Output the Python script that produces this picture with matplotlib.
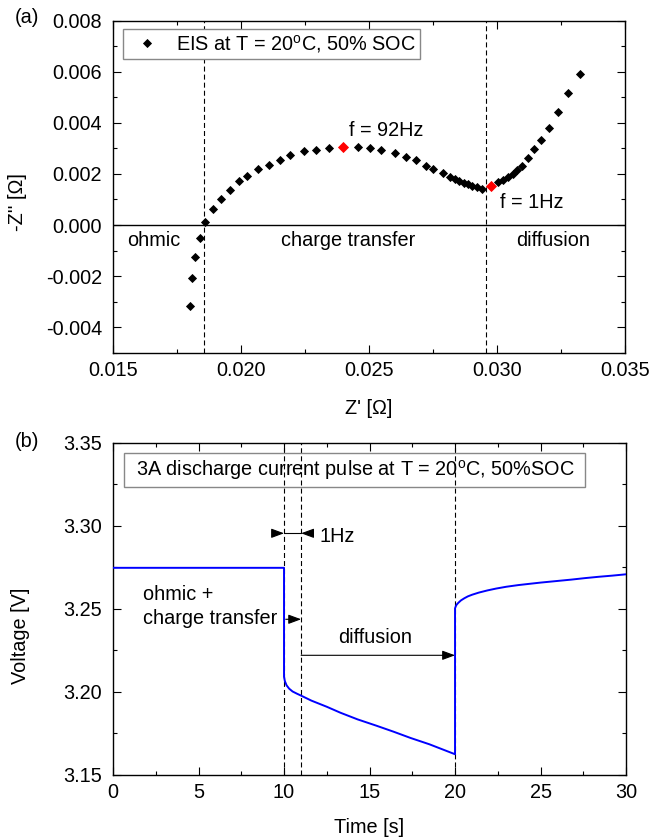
import numpy as np
import matplotlib
matplotlib.use('Agg')
import matplotlib.pyplot as plt
from matplotlib.ticker import MultipleLocator, FormatStrFormatter
from matplotlib.patches import Rectangle

plt.rcParams['font.family'] = ['Liberation Sans', 'DejaVu Sans']
plt.rcParams['mathtext.fontset'] = 'custom'
plt.rcParams['mathtext.rm'] = 'Liberation Sans'
plt.rcParams['axes.unicode_minus'] = False
plt.rcParams['font.size'] = 14.3

# EIS spectrum (Nyquist plot), T = 20 degC, 50 % SOC
z_re = [0.01800, 0.01809, 0.01819, 0.01839, 0.01858, 0.01891, 0.01923, 0.01956,
        0.01991, 0.02025, 0.02066, 0.02108, 0.02151, 0.02190, 0.02245, 0.02294,
        0.02344, 0.02457, 0.02505, 0.02548, 0.02600, 0.02646, 0.02685, 0.02724,
        0.02750, 0.02789, 0.02818, 0.02835, 0.02852, 0.02870, 0.02887, 0.02904,
        0.02922, 0.02940, 0.03004, 0.03024, 0.03043, 0.03063, 0.03078, 0.03099,
        0.03121, 0.03143, 0.03170, 0.03203, 0.03238, 0.03277, 0.03326]
z_im = [-0.00316, -0.00208, -0.00127, -0.00052, 0.00012, 0.00064, 0.00103, 0.00138,
        0.00171, 0.00193, 0.00219, 0.00236, 0.00256, 0.00273, 0.00288, 0.00292,
        0.00301, 0.00304, 0.00301, 0.00295, 0.00282, 0.00266, 0.00253, 0.00232,
        0.00220, 0.00204, 0.00190, 0.00180, 0.00172, 0.00164, 0.00159, 0.00154,
        0.00149, 0.00143, 0.00167, 0.00177, 0.00188, 0.00201, 0.00214, 0.00232,
        0.00262, 0.00298, 0.00334, 0.00380, 0.00442, 0.00517, 0.00592]

# highlighted frequencies
mark_re = [0.02398, 0.02978]
mark_im = [0.00305, 0.00151]
mark_txt = ['f = 92Hz', 'f = 1Hz']

# region borders in the spectrum
z_ohmic = 0.01855
z_1hz = 0.02956

# voltage response to a 3 A discharge pulse
t = [0.0, 10.0, 10.0, 10.05, 10.15, 10.3, 10.5, 10.75, 11.0, 11.6, 12.5, 13.3,
     14.3, 15.4, 16.4, 17.4, 18.5, 19.5, 20.0, 20.0, 20.05, 20.1, 20.2, 20.35,
     20.55, 20.75, 21.0, 21.4, 21.9, 22.4, 23.0, 23.7, 24.3, 25.0, 26.0, 26.8,
     27.6, 28.4, 29.2, 30.0]
v = [3.2748, 3.2748, 3.2092, 3.2065, 3.2040, 3.2020, 3.2003, 3.1990, 3.1978,
     3.1948, 3.1911, 3.1875, 3.1835, 3.1797, 3.1761, 3.1723, 3.1685, 3.1645,
     3.1625, 3.2504, 3.2518, 3.2527, 3.2538, 3.2552, 3.2565, 3.2576, 3.2586,
     3.2599, 3.2612, 3.2623, 3.2634, 3.2644, 3.2651, 3.2659, 3.2669, 3.2677,
     3.2686, 3.2694, 3.2701, 3.2709]

t_on = 10.0
t_1hz = 11.0
t_off = 20.0

fig = plt.figure(figsize=(6.66, 8.39), dpi=100)
ax1 = fig.add_axes([0.1697, 0.5796, 0.7688, 0.3957])
ax2 = fig.add_axes([0.1697, 0.0763, 0.7703, 0.3957])


def style_axes(ax):
    ax.tick_params(which='both', direction='in', top=True, right=True, width=0.8)
    ax.tick_params(which='major', length=5.5, pad=6)
    ax.tick_params(which='minor', length=3)
    ax.tick_params(axis='y', which='major', pad=8)
    for s in ax.spines.values():
        s.set_linewidth(1.0)


dash = (0, (4.5, 2.75))

# ---- (a) EIS ----
ax1.axhline(0, color='k', lw=1.0, zorder=1)
ax1.axvline(z_ohmic, color='k', lw=0.8, ls=dash, zorder=1)
ax1.axvline(z_1hz, color='k', lw=0.8, ls=dash, zorder=1)
ax1.plot(z_re, z_im, 'D', color='k', ms=4.0, mew=0.6, zorder=3,
         label='EIS at T = 20$^\\mathrm{o}$C, 50% SOC')
ax1.plot(mark_re, mark_im, 'D', color='red', mec='red', ms=5.6, mew=0.6, zorder=4)
ax1.text(0.02420, 0.00347, mark_txt[0], ha='left', va='baseline')
ax1.text(0.03010, 0.00068, mark_txt[1], ha='left', va='baseline')
ax1.text(0.01555, -0.00082, 'ohmic', ha='left', va='baseline')
ax1.text(0.02157, -0.00082, 'charge transfer', ha='left', va='baseline')
ax1.text(0.03075, -0.00082, 'diffusion', ha='left', va='baseline')

ax1.set_xlim(0.015, 0.035)
ax1.set_ylim(-0.005, 0.008)
ax1.xaxis.set_major_locator(MultipleLocator(0.005))
ax1.xaxis.set_minor_locator(MultipleLocator(0.0025))
ax1.yaxis.set_major_locator(MultipleLocator(0.002))
ax1.yaxis.set_minor_locator(MultipleLocator(0.001))
ax1.xaxis.set_major_formatter(FormatStrFormatter('%.3f'))
ax1.yaxis.set_major_formatter(FormatStrFormatter('%.3f'))
style_axes(ax1)
ax1.set_xlabel("Z' [Ω]", labelpad=14)
ax1.set_ylabel("-Z'' [Ω]")
ax1.yaxis.set_label_coords(-0.168, 0.455)

leg = ax1.legend(loc='upper left', bbox_to_anchor=(0.0195, 0.975), borderaxespad=0,
                 fancybox=False, edgecolor='#888888', framealpha=1, handlelength=2.0,
                 handletextpad=0.45, borderpad=0.2, fontsize=14.3)
leg.get_frame().set_linewidth(1.0)

# ---- (b) pulse ----
for tx in (t_on, t_1hz, t_off):
    ax2.axvline(tx, color='k', lw=0.8, ls=dash, zorder=1)
ax2.plot(t, v, color='#0000ff', lw=1.4, zorder=3)

head = dict(arrowstyle='-|>,head_length=0.54,head_width=0.2', color='k', lw=0.8,
            shrinkA=0, shrinkB=0)
y_hz = 3.2956
ax2.plot([t_on, t_1hz], [y_hz, y_hz], color='k', lw=0.8)
ax2.annotate('', xy=(t_on, y_hz), xytext=(t_on - 0.62, y_hz), arrowprops=head)
ax2.annotate('', xy=(t_1hz, y_hz), xytext=(t_1hz + 0.62, y_hz), arrowprops=head)
ax2.text(12.05, 3.2905, '1Hz', ha='left', va='baseline')

ax2.text(1.77, 3.2554, 'ohmic +', ha='left', va='baseline')
ax2.text(1.77, 3.2410, 'charge transfer', ha='left', va='baseline')
ax2.annotate('', xy=(t_1hz, 3.2438), xytext=(10.1, 3.2438), arrowprops=head)
ax2.text(13.18, 3.2297, 'diffusion', ha='left', va='baseline')
ax2.annotate('', xy=(t_off, 3.2221), xytext=(t_1hz, 3.2221), arrowprops=head)

ax2.add_patch(Rectangle((0.0207, 0.8675), 0.8985, 0.1024, transform=ax2.transAxes,
                        fill=False, edgecolor='#888888', lw=1.0, zorder=5))
ax2.text(0.0448, 0.9187, '3A discharge current pulse at T = 20$^\\mathrm{o}$C, 50%SOC',
         transform=ax2.transAxes, ha='left', va='center')

ax2.set_xlim(0, 30)
ax2.set_ylim(3.15, 3.35)
ax2.xaxis.set_major_locator(MultipleLocator(5))
ax2.xaxis.set_minor_locator(MultipleLocator(2.5))
ax2.yaxis.set_major_locator(MultipleLocator(0.05))
ax2.yaxis.set_minor_locator(MultipleLocator(0.025))
ax2.yaxis.set_major_formatter(FormatStrFormatter('%.2f'))
style_axes(ax2)
ax2.set_xlabel('Time [s]', labelpad=11)
ax2.set_ylabel('Voltage [V]')
ax2.yaxis.set_label_coords(-0.162, 0.42)

fig.text(0.0225, 0.9797, '(a)', ha='left', va='center')
fig.text(0.0225, 0.4732, '(b)', ha='left', va='center')

fig.savefig('out.png', dpi=100)
